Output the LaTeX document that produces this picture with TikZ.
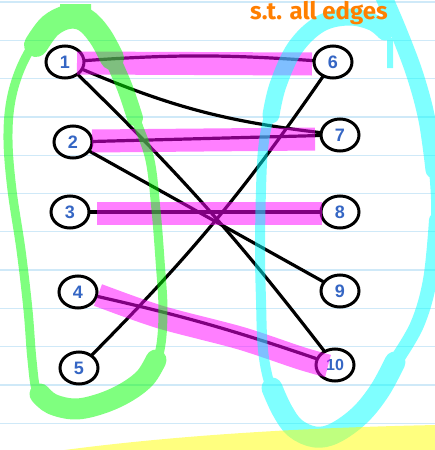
\documentclass[tikz,border=0pt]{standalone}
\usepackage{fontspec}
\newfontfamily\numfont{Liberation Sans}
\newfontfamily\notefont{Fira Sans}
\usetikzlibrary{shapes.geometric}
\definecolor{rulecol}{HTML}{CFE9F8}
\definecolor{numblue}{HTML}{3566C4}
\definecolor{orng}{HTML}{FF7F00}
\definecolor{magx}{RGB}{255,0,255}
\definecolor{cyanx}{RGB}{0,255,255}
\definecolor{greenx}{RGB}{0,255,0}
\definecolor{yellowx}{RGB}{255,255,0}
\begin{document}
\begin{tikzpicture}[x=1pt,y=-1pt,
  vtx/.style={ellipse,draw=black,line width=3pt,minimum width=38pt,minimum height=32pt,inner sep=0pt,
    font=\numfont\bfseries\fontsize{18}{18}\selectfont,text=numblue},
  ln/.style={draw=black,line width=3.2pt,line cap=round,line join=round},
  hl/.style={draw=magx,line width=23pt,opacity=0.5},
  rul/.style={draw=rulecol,line width=1.3pt},
  marker/.style={line cap=round,line join=round}]
\useasboundingbox (0,0) rectangle (435,450);
\clip (0,0) rectangle (435,450);
\fill[white] (0,0) rectangle (435,450);
% notebook rules
\foreach \k in {0,...,11} \draw[rul] (0,{2+38.3*\k}) -- (435,{2+38.3*\k});
% vertices
\node[vtx] (n1) at (65,62) {1};
\node[vtx] (n2) at (73,142) {2};
\node[vtx] (n3) at (70,212) {3};
\node[vtx] (n4) at (78,292) {4};
\node[vtx] (n5) at (79,368) {5};
\node[vtx] (n6) at (333,62) {6};
\node[vtx] (n7) at (340,135) {7};
\node[vtx] (n8) at (340,212) {8};
\node[vtx] (n9) at (340,291) {9};
\node[vtx,font=\numfont\bfseries\fontsize{16}{16}\selectfont] (n10) at (335,365) {10};
% edges
\draw[ln] (n1) to[bend left=4] (n6);
\draw[ln] (n1) to[bend right=8] (n7);
\draw[ln] (n1) to[bend left=4] (n10);
\draw[ln] (n2) -- (n7);
\draw[ln] (n2) -- (n9);
\draw[ln] (n3) -- (n8);
\draw[ln] (n4) to[bend left=3] (n10);
\draw[ln] (n5) to[bend right=5] (n6);
% matching highlights
\draw[hl] (77,63) -- (312,64);
\draw[hl] (92,141) -- (315,139);
\draw[hl] (97,213) -- (322,213);
\draw[hl] plot[smooth] coordinates {(98,295) (160,317) (240,338) (300,358) (328,366)};
% green loop
\begin{scope}[transparency group,opacity=0.5]
\draw[greenx,line width=9pt,marker] plot[smooth cycle,tension=0.6] coordinates {
 (77,16) (98,35) (115,65) (128,95) (138,125) (150,160) (156,210) (160,260) (163,310) (160,350)
 (150,373) (130,390) (100,403) (75,408) (50,403) (37,392) (32,360) (28,310) (21,250) (12,190)
 (8,140) (11,100) (22,65) (40,35) (60,18)};
\draw[greenx,line width=24pt,marker] plot[smooth,tension=0.6] coordinates {(36,45) (50,26) (68,17) (85,20) (100,36) (112,58)};
\draw[greenx,line width=14pt] (60,11) -- (91,11);
\draw[greenx,line width=16pt,marker] plot[smooth,tension=0.6] coordinates {(112,58) (125,88) (135,118)};
\draw[greenx,line width=21pt,marker] plot[smooth,tension=0.6] coordinates {(156,360) (145,378) (125,393) (100,404) (75,409) (52,404) (40,394)};
\end{scope}
% cyan loop
\begin{scope}[transparency group,opacity=0.5]
\draw[cyanx,line width=10pt,marker] plot[smooth,tension=0.6] coordinates {
 (383,-5) (398,30) (415,75) (427,120) (434,170) (436,220) (430,280) (417,325) (395,362) (380,390)
 (360,415) (335,433) (315,437) (295,428) (282,410) (270,385) (263,350) (261,300) (260,250)
 (261,190) (263,150) (268,120) (278,85) (295,48) (320,24) (348,17) (372,22) (387,34)};
\draw[cyanx,line width=17pt,marker] plot[smooth,tension=0.6] coordinates {(383,-5) (398,30) (415,75) (427,120) (434,170)};
\draw[cyanx,line width=14pt,marker] plot[smooth,tension=0.6] coordinates {(436,220) (430,280) (417,325) (395,362)};
\draw[cyanx,line width=21pt,marker] plot[smooth,tension=0.6] coordinates {(395,362) (380,390) (360,415) (335,433) (315,437) (295,428) (282,410) (272,388)};
\draw[cyanx,line width=17pt,marker] plot[smooth,tension=0.6] coordinates {(271,115) (278,85) (295,48) (320,24) (348,17) (372,22) (385,32)};
\draw[cyanx,line width=6pt] (390,38) -- (390,68);
\end{scope}
% yellow band
\fill[yellowx,opacity=0.5] (50,452) .. controls (150,438) and (280,428) .. (437,425) -- (437,452) -- cycle;
% orange note at the top edge
\node[anchor=base west,text=orng,inner sep=0pt,
  font=\notefont\bfseries\fontsize{24}{24}\selectfont] (note) at (250,19) {s.t. all edges};
\end{tikzpicture}
\end{document}
